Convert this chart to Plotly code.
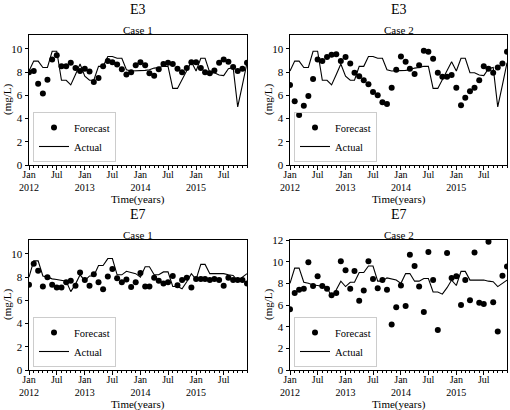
import pandas as pd
import plotly.graph_objects as go
from plotly.subplots import make_subplots

months = pd.date_range("2012-01-01", periods=48, freq="MS")

e3_actual = [8.1, 8.95, 8.95, 8.4, 8.4, 9.8, 9.8, 7.3, 7.3, 6.9, 7.8, 8.7,
             7.65, 7.3, 7.3, 8.5, 8.5, 9.35, 9.35, 9.2, 9.2, 8.2, 8.1, 8.1,
             8.15, 8.15, 8.2, 8.35, 8.4, 8.5, 8.5, 6.6, 6.6, 7.4, 8.1, 8.9,
             8.1, 9.2, 9.2, 7.95, 7.95, 7.75, 7.7, 8.3, 8.4, 5.0, 6.9, 8.8]
e3_case1 = [8.0, 8.1, 7.0, 6.15, 7.35, 9.1, 9.45, 8.5, 8.5, 8.8, 8.35, 8.1,
            8.3, 8.05, 7.15, 7.5, 8.5, 8.95, 8.85, 8.65, 8.25, 7.8, 8.0, 8.6,
            8.85, 8.6, 7.9, 7.7, 8.25, 8.7, 8.8, 8.7, 8.3, 8.0, 8.35, 8.85,
            8.85, 8.35, 8.0, 7.9, 8.15, 8.8, 9.1, 8.9, 8.45, 8.1, 8.3, 8.8]
e3_case2 = [6.9, 5.5, 4.3, 5.1, 5.95, 7.4, 9.1, 8.95, 9.3, 9.5, 9.55, 8.95,
            9.3, 8.75, 7.95, 7.65, 7.3, 6.95, 6.3, 6.0, 5.4, 5.25, 6.65, 8.2,
            9.35, 8.9, 8.3, 7.85, 8.6, 9.85, 9.75, 9.15, 7.95, 7.6, 7.6, 7.75,
            6.65, 5.15, 5.8, 6.35, 6.65, 7.3, 8.5, 8.3, 7.95, 8.4, 8.75, 9.75]

e7_actual = [8.0, 9.4, 9.4, 8.1, 8.0, 7.85, 7.8, 7.75, 7.65, 6.75, 7.4, 8.2,
             7.7, 8.1, 8.1, 9.0, 9.0, 9.6, 9.6, 8.2, 8.2, 8.5, 8.4, 8.3,
             8.0, 8.9, 8.9, 8.2, 8.2, 8.45, 8.45, 7.2, 7.2, 7.0, 7.6, 8.3,
             7.8, 9.1, 9.1, 8.3, 8.3, 8.3, 8.3, 8.2, 8.15, 7.7, 8.0, 8.3]
e7_case1 = [7.35, 9.15, 8.55, 7.2, 8.0, 7.35, 7.1, 7.1, 7.55, 7.7, 7.25, 8.4,
            7.75, 7.25, 8.25, 7.55, 6.95, 8.05, 8.7, 7.9, 7.55, 7.8, 7.15, 7.55,
            8.35, 7.2, 7.2, 7.95, 7.7, 7.45, 7.55, 8.1, 7.3, 7.75, 7.95, 7.1,
            7.85, 7.85, 7.85, 7.75, 7.85, 7.75, 7.25, 7.95, 7.75, 7.75, 7.75, 7.45]
e7_case2 = [5.6, 7.1, 7.4, 7.5, 9.95, 7.75, 8.65, 7.75, 7.5, 6.9, 7.1, 10.05,
            9.2, 7.5, 9.15, 6.4, 7.35, 10.05, 8.4, 7.55, 8.3, 7.4, 4.2, 5.8,
            7.8, 5.9, 10.65, 9.6, 7.7, 5.35, 10.9, 8.3, 3.7, None, 10.8, 8.5,
            8.65, 6.0, 8.3, 6.45, 10.85, 6.2, 6.1, 11.85, 6.25, 3.55, 8.7, 9.55]

tick_dates = ["2012-01-01", "2012-07-01", "2013-01-01", "2013-07-01",
              "2014-01-01", "2014-07-01", "2015-01-01", "2015-07-01"]
tick_text = ["Jan<br>2012", "Jul", "Jan<br>2013", "Jul",
             "Jan<br>2014", "Jul", "Jan<br>2015", "Jul"]

panels = [
    ("E3", "Case 1", e3_case1, e3_actual, 1, 1, 11.2, [0, 2, 4, 6, 8, 10]),
    ("E3", "Case 2", e3_case2, e3_actual, 1, 2, 11.2, [0, 2, 4, 6, 8, 10]),
    ("E7", "Case 1", e7_case1, e7_actual, 2, 1, 11.2, [0, 2, 4, 6, 8, 10]),
    ("E7", "Case 2", e7_case2, e7_actual, 2, 2, 12, [0, 2, 4, 6, 8, 10, 12]),
]

W, H = 510, 410
FONT = "Liberation Serif"
xdoms = {1: [29 / W, 247 / W], 2: [290 / W, 507 / W]}
ydoms = {1: [1 - 165 / H, 1 - 35 / H], 2: [1 - 370 / H, 1 - 240 / H]}

fig = make_subplots(rows=2, cols=2)
annotations = []
for k, (main, sub, fc, act, r, c, ymax, yt) in enumerate(panels):
    leg = "legend" if k == 0 else f"legend{k + 1}"
    fig.add_trace(go.Scatter(x=months, y=fc, mode="markers", name="Forecast",
                             marker=dict(color="black", size=6),
                             legend=leg), row=r, col=c)
    fig.add_trace(go.Scatter(x=months, y=act, mode="lines", name="Actual",
                             line=dict(color="black", width=1.1),
                             legend=leg), row=r, col=c)
    fig.update_xaxes(domain=xdoms[c], range=["2012-01-01", "2015-12-01"],
                     tickvals=tick_dates, ticktext=tick_text, automargin=False,
                     ticks="outside", ticklen=3.5, tickcolor="black",
                     ticklabelstandoff=-4,
                     showline=True, linecolor="black", linewidth=1, mirror=True,
                     showgrid=False, zeroline=False,
                     tickfont=dict(family=FONT, size=10, color="black"),
                     minor=dict(ticks="outside", ticklen=2, dtick="M1",
                                tick0="2012-01-01", tickcolor="black", showgrid=False),
                     row=r, col=c)
    fig.update_yaxes(domain=ydoms[r], range=[0, ymax], tickvals=yt, automargin=False,
                     ticks="outside", ticklen=3.5, tickcolor="black",
                     showline=True, linecolor="black", linewidth=1, mirror=True,
                     showgrid=False, zeroline=False,
                     tickfont=dict(family=FONT, size=11, color="black"),
                     row=r, col=c)
    x0, x1 = xdoms[c]
    y0, y1 = ydoms[r]
    xc = (x0 + x1) / 2
    annotations.append(dict(text=main, x=xc, y=y1 + 26 / H, xref="paper", yref="paper",
                            showarrow=False, font=dict(family=FONT, size=14, color="black"),
                            xanchor="center", yanchor="middle"))
    annotations.append(dict(text=sub, x=xc, y=y1 + 5 / H, xref="paper", yref="paper",
                            showarrow=False, font=dict(family=FONT, size=11, color="black"),
                            xanchor="center", yanchor="middle"))
    annotations.append(dict(text="Time(years)", x=xc, y=y0 - 34 / H, xref="paper", yref="paper",
                            showarrow=False, font=dict(family=FONT, size=11, color="black"),
                            xanchor="center", yanchor="middle"))
    annotations.append(dict(text="(mg/L)", x=x0 - 22 / W, y=(y0 + y1) / 2, xref="paper", yref="paper",
                            showarrow=False, textangle=-90,
                            font=dict(family=FONT, size=11, color="black"),
                            xanchor="center", yanchor="middle"))
    legcfg = dict(x=x0 + 4 / W, y=y0 + 3 / H, xanchor="left", yanchor="bottom",
                  bgcolor="rgba(255,255,255,0)", bordercolor="#cccccc", borderwidth=1,
                  font=dict(family=FONT, size=10.5, color="black"), itemwidth=30,
                  tracegroupgap=0)
    fig.update_layout({leg: legcfg})

fig.update_layout(width=W, height=H, margin=dict(l=0, r=0, t=0, b=0, autoexpand=False),
                  paper_bgcolor="white", plot_bgcolor="white",
                  annotations=annotations, showlegend=True)
fig.write_html("out.html", config={"displayModeBar": False},
               post_script="document.body.style.margin='0px';document.body.style.overflow='hidden';")
